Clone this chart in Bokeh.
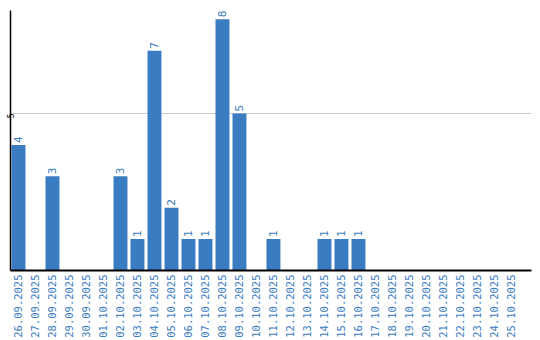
import math
from bokeh.plotting import figure
from bokeh.models import ColumnDataSource, Range1d, FixedTicker
from bokeh.core.properties import value
from bokeh.embed import file_html
from bokeh.resources import INLINE

dates = ["26.09.2025", "27.09.2025", "28.09.2025", "29.09.2025", "30.09.2025",
         "01.10.2025", "02.10.2025", "03.10.2025", "04.10.2025", "05.10.2025",
         "06.10.2025", "07.10.2025", "08.10.2025", "09.10.2025", "10.10.2025",
         "11.10.2025", "12.10.2025", "13.10.2025", "14.10.2025", "15.10.2025",
         "16.10.2025", "17.10.2025", "18.10.2025", "19.10.2025", "20.10.2025",
         "21.10.2025", "22.10.2025", "23.10.2025", "24.10.2025", "25.10.2025"]
counts = [4, 0, 3, 0, 0, 0, 3, 1, 7, 2, 1, 1, 8, 5, 0, 1, 0, 0, 1, 1, 1,
          0, 0, 0, 0, 0, 0, 0, 0, 0]
y_ticks = [5]

BLUE = "#3a7cc1"
FONT = "DejaVu Sans Mono"

idx = list(range(len(dates)))
src = ColumnDataSource(dict(x=idx, top=counts))
lab_x = [i for i, c in zip(idx, counts) if c > 0]
lab_y = [c for c in counts if c > 0]
lab_t = [str(c) for c in counts if c > 0]
lab_src = ColumnDataSource(dict(x=lab_x, y=lab_y, t=lab_t))

p = figure(width=540, height=340, output_backend="svg", toolbar_location=None,
           x_range=Range1d(-0.47, 30.18), y_range=Range1d(0, 8.28),
           min_border_left=0, min_border_right=9, min_border_top=10, min_border_bottom=0)
p.outline_line_color = None
p.background_fill_color = "white"
p.border_fill_color = "white"

p.vbar(x="x", top="top", width=0.82, source=src, fill_color=BLUE, line_color=None)
p.text(x="x", y="y", text="t", source=lab_src, angle=math.pi / 2,
       text_align="left", text_baseline="middle", y_offset=-2,
       text_color=BLUE, text_font=value(FONT), text_font_size="11px")

p.xgrid.visible = False
p.ygrid.ticker = FixedTicker(ticks=y_ticks)
p.ygrid.grid_line_color = "#c8c8c8"
p.ygrid.grid_line_width = 1

xa = p.xaxis[0]
xa.ticker = FixedTicker(ticks=idx)
xa.major_label_overrides = {i: d for i, d in zip(idx, dates)}
xa.major_label_orientation = math.pi / 2
xa.major_label_text_color = BLUE
xa.major_label_text_font = FONT
xa.major_label_text_font_size = "10.5px"
xa.major_tick_line_color = None
xa.minor_tick_line_color = None
xa.major_tick_out = 0
xa.major_tick_in = 0
xa.major_label_standoff = 4
xa.axis_line_color = "black"
xa.axis_line_width = 2

ya = p.yaxis[0]
ya.ticker = FixedTicker(ticks=y_ticks)
ya.major_label_orientation = math.pi / 2
ya.major_label_text_color = "black"
ya.major_label_text_font = FONT
ya.major_label_text_font_size = "8px"
ya.major_tick_line_color = None
ya.minor_tick_line_color = None
ya.major_tick_out = 0
ya.major_tick_in = 0
ya.major_label_standoff = 0
ya.axis_line_color = "black"
ya.axis_line_width = 1.5

open("out.html", "w").write(file_html(p, INLINE))
